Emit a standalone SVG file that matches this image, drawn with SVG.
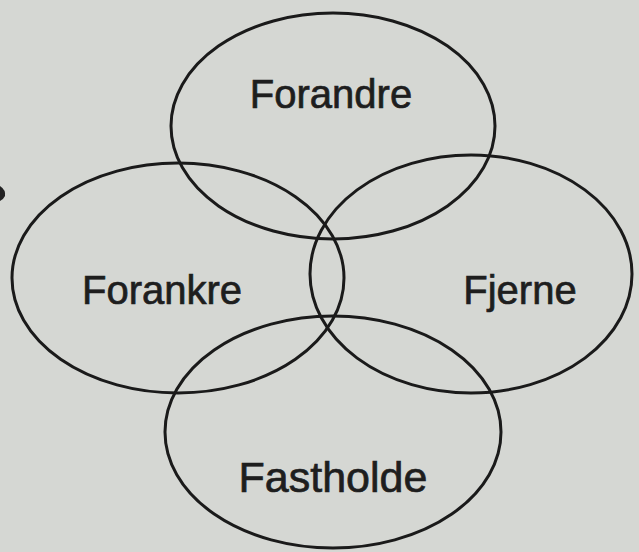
<svg xmlns="http://www.w3.org/2000/svg" width="639" height="552" viewBox="0 0 639 552">
<style>
.ring{fill:none;stroke:#1a1a1a;stroke-width:3}
.lbl{font-family:"Liberation Sans",Arial,sans-serif;font-size:40px;fill:#1e1e1e;stroke:#1e1e1e;stroke-width:0.7;text-anchor:middle}
</style>
<rect width="639" height="552" fill="#d5d7d3"/>
<path d="M0,186 Q6,190 5,196 Q3,200 0,201 Z" fill="#222"/>
<g id="forandre"><ellipse class="ring" cx="333" cy="126" rx="162" ry="113"/><text class="lbl" x="331" y="108">Forandre</text></g>
<g id="forankre"><ellipse class="ring" cx="178" cy="278" rx="166" ry="115"/><text class="lbl" x="162" y="304">Forankre</text></g>
<g id="fjerne"><ellipse class="ring" cx="471" cy="274" rx="161" ry="119"/><text class="lbl" x="520" y="304">Fjerne</text></g>
<g id="fastholde"><ellipse class="ring" cx="333" cy="432" rx="168" ry="116"/><text class="lbl" x="333" y="492" style="font-size:43px">Fastholde</text></g>
<g id="connectors"/>
</svg>
